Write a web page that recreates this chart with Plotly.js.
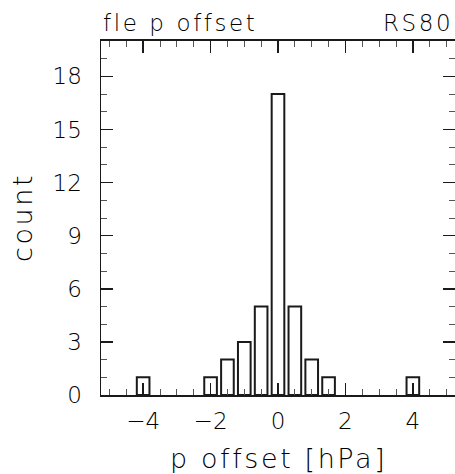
<!DOCTYPE html>
<html>
<head>
<meta charset="utf-8">
<script src="https://cdn.plot.ly/plotly-3.0.1.min.js"></script>
<style>
html,body{margin:0;padding:0;background:#fff;}
#chart{width:455px;height:474px;}
.annotation-text{letter-spacing:2.6px;}
</style>
</head>
<body>
<div id="chart"></div>
<script>
const binCenters = [-4, -2, -1.5, -1, -0.5, 0, 0.5, 1, 1.5, 4];
const counts = [1, 1, 2, 3, 5, 17, 5, 2, 1, 1];
const xTickVals = [-4, -2, 0, 2, 4];
const xTickText = ['\u22124', '\u22122', '0', '2', '4'];
const yTickVals = [0, 3, 6, 9, 12, 15, 18];

const font = 'DejaVu Sans ExtraLight, DejaVu Sans, sans-serif';
const ink = '#1a1a1a';
const txt = '#000';

const trace = {
  type: 'bar',
  x: binCenters,
  y: counts,
  width: 0.375,
  marker: {color: 'rgba(255,255,255,0)', line: {color: ink, width: 2}},
  hoverinfo: 'skip'
};

const layout = {
  width: 455, height: 474,
  margin: {l: 101, r: 0, t: 41, b: 79},
  paper_bgcolor: '#fff', plot_bgcolor: '#fff',
  showlegend: false,
  font: {family: font, color: txt, weight: 200},
  xaxis: {
    range: [-5.25, 5.25],
    tickvals: xTickVals, ticktext: xTickText,
    ticks: 'inside', ticklen: 12, tickwidth: 1.5, tickcolor: ink,
    minor: {dtick: 0.5, tick0: 0, ticks: 'inside', ticklen: 6, tickwidth: 1, tickcolor: '#555'},
    showline: true, linecolor: ink, linewidth: 2, mirror: 'allticks',
    showgrid: false, zeroline: false,
    tickfont: {size: 23, family: font, color: txt, weight: 200},
    ticklabelstandoff: 4
  },
  yaxis: {
    range: [0, 20],
    tickvals: yTickVals,
    ticks: 'inside', ticklen: 12, tickwidth: 1.5, tickcolor: ink,
    minor: {dtick: 1, tick0: 0, ticks: 'inside', ticklen: 6, tickwidth: 1, tickcolor: '#555'},
    showline: true, linecolor: ink, linewidth: 1.5, mirror: 'allticks',
    showgrid: false, zeroline: false,
    tickfont: {size: 23, family: font, color: txt, weight: 200},
    ticklabelstandoff: 13
  },
  annotations: [
    {text: 'fle p offset', xref: 'paper', yref: 'paper', x: 0, y: 1, xanchor: 'left', yanchor: 'bottom', yshift: 3, showarrow: false, font: {size: 23, family: font, color: txt, weight: 200}},
    {text: 'RS80', xref: 'paper', yref: 'paper', x: 1, y: 1, xanchor: 'right', yanchor: 'bottom', yshift: 3, showarrow: false, font: {size: 23, family: font, color: txt, weight: 200}},
    {text: 'p offset [hPa]', xref: 'paper', yref: 'paper', x: 0.5, y: 0, xanchor: 'center', yanchor: 'top', yshift: -46, showarrow: false, font: {size: 27, family: font, color: txt, weight: 200}},
    {text: 'count', xref: 'paper', yref: 'paper', x: 0, y: 0.5, xanchor: 'center', yanchor: 'middle', xshift: -79, textangle: -90, showarrow: false, font: {size: 27, family: font, color: txt, weight: 200}}
  ]
};

Plotly.newPlot('chart', [trace], layout, {displayModeBar: false, staticPlot: true});
</script>
</body>
</html>
